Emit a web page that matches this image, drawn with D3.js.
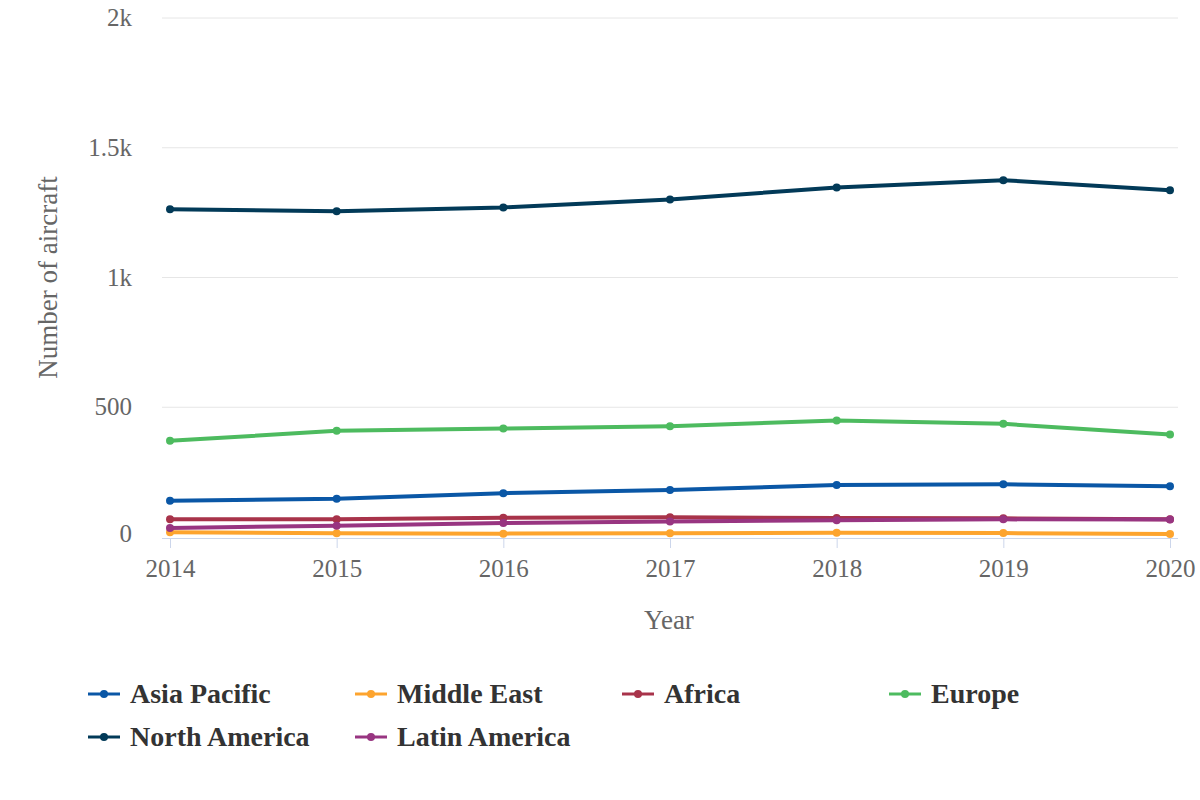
<!DOCTYPE html>
<html><head><meta charset="utf-8">
<script src="https://cdn.jsdelivr.net/npm/d3@7"></script>
<style>body{margin:0;background:#fff;} text{font-family:"Liberation Serif","Times New Roman",serif;}</style>
</head><body>
<svg id="c" width="1200" height="800"></svg>
<script>
const years = [2014, 2015, 2016, 2017, 2018, 2019, 2020];
const seriesNames = ["Asia Pacific", "Middle East", "Africa", "Europe", "North America", "Latin America"];
const asiaPacific = [140, 147, 169, 181, 200, 203, 196];
const middleEast = [18, 14, 13, 14, 16, 15, 12];
const africa = [68, 68, 74, 76, 73, 72, 68];
const europe = [371, 409, 418, 427, 449, 436, 395];
const northAmerica = [1263, 1255, 1270, 1301, 1347, 1375, 1336];
const latinAmerica = [35, 43, 54, 60, 65, 68, 67];
const yTicks = [0, 500, 1000, 1500, 2000];
const yTickLabels = ["0", "500", "1k", "1.5k", "2k"];
const colors = ["#0a57a6", "#fda42e", "#a8334a", "#4dbb5f", "#023a58", "#983581"];

const data = [asiaPacific, middleEast, africa, europe, northAmerica, latinAmerica];
const svg = d3.select("#c");
const L = 162, R = 1178, T = 18, B = 537;
const x = d3.scaleLinear().domain([2014, 2020]).range([170, 1170]);
const y = d3.scaleLinear().domain([0, 2000]).range([B, T]);

svg.append("g").selectAll("line").data(yTicks.slice(1)).join("line")
  .attr("x1", L).attr("x2", R).attr("y1", d => y(d)).attr("y2", d => y(d))
  .attr("stroke", "#e6e6e6").attr("stroke-width", 1);

svg.append("g").selectAll("text").data(yTicks).join("text")
  .attr("x", 132).attr("y", (d, i) => y(d) + (i === 0 ? 5 : 8)).attr("text-anchor", "end")
  .attr("font-size", 25).attr("fill", "#666").text((d, i) => yTickLabels[i]);

const xAxis = d3.axisBottom(x).tickValues(years).tickFormat(d3.format("d")).tickSize(10).tickSizeOuter(0);
const gx = svg.append("g").attr("transform", `translate(0,${B + 1})`).call(xAxis);
gx.select(".domain").attr("d", `M${L},0.5H${R}`).attr("stroke", "#ccd6eb");
gx.selectAll(".tick line").attr("stroke", "#ccd6eb");
gx.selectAll(".tick text").attr("font-size", 25).attr("fill", "#666").attr("dy", "1.05em")
  .style("font-family", '"Liberation Serif", serif');

svg.append("text").attr("x", 669).attr("y", 629).attr("text-anchor", "middle")
  .attr("font-size", 27).attr("fill", "#666").text("Year");
svg.append("text").attr("transform", `translate(57,${(T + B) / 2}) rotate(-90)`)
  .attr("text-anchor", "middle").attr("font-size", 27).attr("fill", "#666").text("Number of aircraft");

const line = d3.line().x((d, i) => x(years[i])).y(d => y(d));
data.forEach((vals, si) => {
  const g = svg.append("g");
  g.append("path").attr("d", line(vals)).attr("fill", "none")
    .attr("stroke", colors[si]).attr("stroke-width", 4).attr("stroke-linejoin", "round");
  g.selectAll("circle").data(vals).join("circle")
    .attr("cx", (d, i) => x(years[i])).attr("cy", d => y(d)).attr("r", 4).attr("fill", colors[si]);
});

const legX = [88, 355, 622, 889], legY = [694, 737];
const lg = svg.append("g").selectAll("g").data(seriesNames).join("g")
  .attr("transform", (d, i) => `translate(${legX[i % 4]},${legY[Math.floor(i / 4)]})`);
lg.append("line").attr("x1", 0).attr("x2", 32).attr("y1", 0).attr("y2", 0)
  .attr("stroke", (d, i) => colors[i]).attr("stroke-width", 3);
lg.append("circle").attr("cx", 16).attr("cy", 0).attr("r", 4).attr("fill", (d, i) => colors[i]);
lg.append("text").attr("x", 42).attr("y", 9).attr("font-size", 28).attr("font-weight", "bold")
  .attr("fill", "#333").text(d => d);
</script>
</body></html>
